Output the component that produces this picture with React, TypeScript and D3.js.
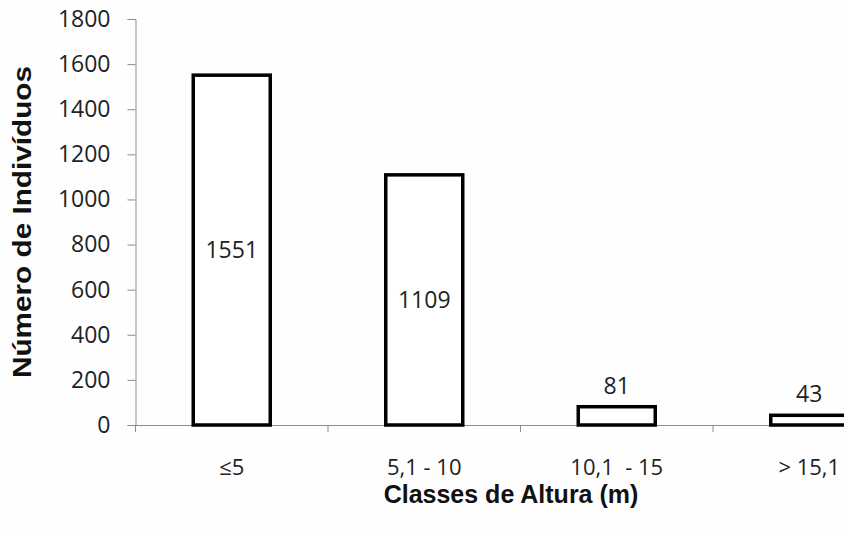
import React, { useEffect, useRef } from 'react';
import * as d3 from 'd3';

const categories = ['≤5', '5,1 - 10', '10,1  - 15', '> 15,1'];
const values = [1551, 1109, 81, 43];
const yTicks = [0, 200, 400, 600, 800, 1000, 1200, 1400, 1600, 1800];

const W = 844;
const H = 534;

const App = () => {
  const svgRef = useRef<SVGSVGElement>(null);

  useEffect(() => {
    if (!svgRef.current) return;
    const svg = d3.select(svgRef.current);
    svg.selectAll('*').remove();

    const left = 135.5;
    const top = 19;
    const bottom = 425;
    const bandW = 192.5;

    const x = d3.scaleBand<string>()
      .domain(categories)
      .range([left, left + bandW * categories.length])
      .paddingInner(0.6)
      .paddingOuter(0.3);

    const y = d3.scaleLinear().domain([0, 1800]).range([bottom, top]);

    const labelFont = '"Open Sans", "DejaVu Sans", sans-serif';
    const titleFont = '"Liberation Sans", Arial, sans-serif';

    svg.append('rect').attr('width', W).attr('height', H).attr('fill', '#fefefe');

    // eixo y
    const yAxis = svg.append('g').attr('transform', `translate(${left},0)`)
      .call(d3.axisLeft(y).tickValues(yTicks).tickSize(8).tickPadding(17).tickFormat(d3.format('d')));
    yAxis.select('.domain').attr('stroke', '#8c8c8c');
    yAxis.selectAll('.tick line').attr('stroke', '#8c8c8c');
    yAxis.selectAll('.tick text')
      .attr('font-family', labelFont)
      .attr('font-size', 23)
      .attr('fill', '#222');

    // eixo x com marcas entre as categorias
    const xg = svg.append('g');
    xg.append('line')
      .attr('x1', left).attr('x2', W)
      .attr('y1', bottom + 0.5).attr('y2', bottom + 0.5)
      .attr('stroke', '#8c8c8c');
    d3.range(categories.length + 1).forEach(i => {
      const tx = left + bandW * i;
      xg.append('line')
        .attr('x1', tx).attr('x2', tx)
        .attr('y1', bottom).attr('y2', bottom + 7)
        .attr('stroke', '#8c8c8c');
    });
    xg.selectAll('text.cat')
      .data(categories)
      .enter()
      .append('text')
      .attr('class', 'cat')
      .attr('x', d => (x(d) as number) + x.bandwidth() / 2)
      .attr('y', 475)
      .attr('text-anchor', 'middle')
      .attr('font-family', labelFont)
      .attr('font-size', 22)
      .attr('fill', '#222')
      .style('white-space', 'pre')
      .text(d => d);

    // barras
    svg.selectAll('rect.bar')
      .data(values)
      .enter()
      .append('rect')
      .attr('class', 'bar')
      .attr('x', (d, i) => x(categories[i]) as number)
      .attr('y', d => y(d))
      .attr('width', x.bandwidth())
      .attr('height', d => bottom - y(d))
      .attr('fill', '#fff')
      .attr('stroke', '#000')
      .attr('stroke-width', 3.5);

    // rótulos dos valores
    svg.selectAll('text.val')
      .data(values)
      .enter()
      .append('text')
      .attr('class', 'val')
      .attr('x', (d, i) => (x(categories[i]) as number) + x.bandwidth() / 2)
      .attr('y', d => d > 500 ? (y(d) + bottom) / 2 + 8 : y(d) - 13)
      .attr('text-anchor', 'middle')
      .attr('font-family', labelFont)
      .attr('font-size', 23)
      .attr('fill', '#222')
      .text(d => d);

    // títulos
    svg.append('text')
      .attr('x', 511)
      .attr('y', 503)
      .attr('text-anchor', 'middle')
      .attr('font-family', titleFont)
      .attr('font-weight', 'bold')
      .attr('font-size', 25)
      .attr('fill', '#111')
      .text('Classes de Altura (m)');

    svg.append('text')
      .attr('transform', `translate(31,${(top + bottom) / 2}) rotate(-90)`)
      .attr('text-anchor', 'middle')
      .attr('font-family', titleFont)
      .attr('font-weight', 'bold')
      .attr('font-size', 25)
      .attr('textLength', 312)
      .attr('lengthAdjust', 'spacingAndGlyphs')
      .attr('fill', '#111')
      .text('Número de Indivíduos');
  }, []);

  return (
    <svg ref={svgRef} width={W} height={H}
      style={{ position: 'absolute', left: 0, top: 0, display: 'block' }} />
  );
};

export default App;
